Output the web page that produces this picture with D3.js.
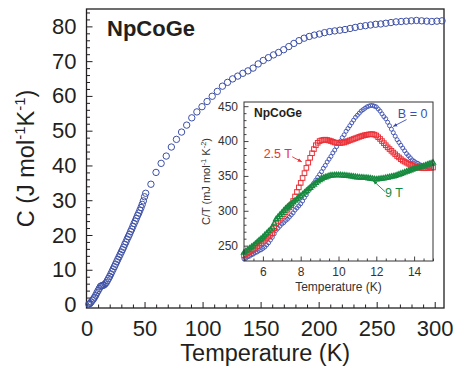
<!DOCTYPE html>
<html>
<head>
<meta charset="utf-8">
<script src="https://cdn.jsdelivr.net/npm/d3@7"></script>
<style>
	body { margin: 0; background: #fff; }
	svg { display: block; font-family: 'Liberation Sans', Arial, Helvetica, sans-serif; }
</style>
</head>
<body>
<svg id="chart" width="459" height="370"></svg>
<script>
// main panel: specific heat C (J mol-1 K-1) vs temperature (K)
const mainT = [
	2, 3, 4, 5, 6, 7, 8, 9, 10, 11, 12, 13, 14, 15, 16, 17, 18, 19, 20, 21, 22, 23, 24, 25,
	26, 27, 28, 29, 30, 31, 32, 33, 34, 35, 36, 37, 38, 39, 40, 41, 42, 43, 44, 45, 46, 47,
	48, 49, 50, 51,
	55.5, 59.9, 64.3, 68.7, 73.1, 77.5, 81.9, 86.3, 90.7, 95.1, 99.5, 103.9, 108.3, 112.7,
	117.1, 121.5, 125.9, 130.3, 134.7, 139.1, 143.5, 147.9, 152.3, 156.7, 161.1, 165.5,
	169.9, 174.3, 178.7, 183.1, 187.5, 191.9, 196.3, 200.7, 205.1, 209.5, 213.9, 218.3,
	222.7, 227.1, 231.5, 235.9, 240.3, 244.7, 249.1, 253.5, 257.9, 262.3, 266.7, 271.1,
	275.5, 279.9, 284.3, 288.7, 293.1, 297.5, 301.9, 306.3
];
const mainC = [
	0.1, 0.3, 0.7, 1.2, 1.6, 2.1, 2.7, 3.4, 4.0, 4.6, 5.2, 5.4, 5.5, 5.6, 5.9, 6.3, 6.9, 7.5,
	8.1, 8.8, 9.5, 10.2, 10.9, 11.6, 12.3, 13.0, 13.7, 14.4, 15.1, 15.8, 16.5, 17.3, 18.0,
	18.8, 19.5, 20.2, 21.0, 21.7, 22.5, 23.3, 24.0, 24.8, 25.6, 26.3, 27.1, 27.9, 28.8, 29.8,
	31.0, 32.0,
	34.6, 38.0, 40.6, 42.7, 45.3, 47.5, 49.6, 51.6, 53.7, 55.4, 56.9, 58.4, 59.9, 61.3,
	62.8, 63.9, 64.9, 65.7, 66.5, 67.2, 68.0, 69.2, 70.2, 71.0, 71.8, 72.5, 73.3, 74.2,
	75.1, 75.9, 76.6, 77.1, 77.5, 77.8, 78.2, 78.5, 78.7, 78.9, 79.1, 79.4, 79.7, 80.0,
	80.2, 80.4, 80.6, 80.7, 80.9, 81.1, 81.3, 81.4, 81.5, 81.6, 81.7, 81.6, 81.5, 81.4,
	81.5, 81.6
];
const mainXTicks = [0, 50, 100, 150, 200, 250, 300];
const mainYTicks = [0, 10, 20, 30, 40, 50, 60, 70, 80];

// inset: C/T (mJ mol-1 K-2) vs temperature, three fields
const insetT = [
	5.0, 5.1, 5.2, 5.3, 5.4, 5.5, 5.6, 5.7, 5.8, 5.9, 6.0, 6.1, 6.2, 6.3, 6.4, 6.5, 6.6, 6.7,
	6.8, 6.9, 7.0, 7.1, 7.2, 7.3, 7.4, 7.5, 7.6, 7.7, 7.8, 7.9, 8.0, 8.1, 8.2, 8.3, 8.4, 8.5,
	8.6, 8.7, 8.8, 8.9, 9.0, 9.1, 9.2, 9.3, 9.4, 9.5, 9.6, 9.7, 9.8, 9.9, 10.0, 10.1, 10.2,
	10.3, 10.4, 10.5, 10.6, 10.7, 10.8, 10.9, 11.0, 11.1, 11.2, 11.3, 11.4, 11.5, 11.6, 11.7,
	11.8, 11.9, 12.0, 12.1, 12.2, 12.3, 12.4, 12.5, 12.6, 12.7, 12.8, 12.9, 13.0, 13.1, 13.2,
	13.3, 13.4, 13.5, 13.6, 13.7, 13.8, 13.9, 14.0, 14.1, 14.2, 14.3, 14.4, 14.5, 14.6, 14.7,
	14.8, 14.9, 15.0
];
// B = 0 (stops at 14.8 K)
const insetB0 = [
	231, 232, 234, 235, 237, 238, 240, 241, 243, 244, 246, 248, 251, 254, 258, 262, 267, 272,
	275, 278, 281, 283, 286, 288, 291, 294, 297, 301, 304, 307, 310, 314, 319, 323, 328, 332,
	336, 340, 344, 348, 352, 356, 361, 365, 370, 374, 378, 383, 387, 392, 396, 400, 405,
	409, 414, 418, 422, 426, 430, 434, 437, 440, 443, 445, 447, 449, 450, 451,
	451, 450, 449, 446, 443, 439, 435, 432, 427, 422, 417, 412, 407, 402, 398,
	394, 390, 386, 382, 379, 376, 373, 371, 369, 368, 366, 365, 364, 363, 362.6,
	362
];
// B = 2.5 T
const insetB25 = [
	236, 238, 239.5, 241, 243, 245, 247, 249, 251.5, 253.5, 256, 258.5, 261, 263, 265.5, 268,
	275, 282, 285.5, 289, 292, 295, 298, 301.5, 305, 308, 314, 320.5, 327, 333.5, 340, 347,
	354, 361.5, 369, 376, 382.5, 388.5, 394, 397.5, 400, 401, 401.7, 402, 401.5, 400.8, 400,
	399, 398, 397.5, 397, 397.2, 397.6, 398, 399, 400, 401, 402, 403, 404, 405, 406, 407,
	407.8, 408.5, 409, 409.5, 409.8, 410, 409.2, 408, 405.5, 403, 400, 397, 394, 391, 388.5,
	386, 383.5, 381, 378.5, 376.5, 374, 372, 370.5, 369, 367.5, 366, 365, 364, 363, 362,
	361.7, 361.4, 361.2, 361, 361.2, 361.5, 361.8, 362
];
// B = 9 T
const insetB9 = [
	240, 242, 244, 246, 248, 250, 252.5, 255, 257.5, 259.5, 262, 265, 267.5, 270.5, 273, 276,
	282, 288, 291, 294, 297, 300, 303, 305.5, 308, 310, 312, 314.5, 316.5, 319, 321, 323.5,
	326, 328.5, 331, 333, 335.5, 337.5, 340, 342, 344, 345.5, 347, 348, 349, 350, 350.5,
	350.8, 351, 351, 351, 351, 350.7, 350.5, 350.2, 350, 349.6, 349.2, 348.8, 348.4, 348,
	347.8, 347.6, 347.4, 347.2, 347, 346.6, 346.2, 345.8, 345.4, 345, 345.3, 345.7, 346.1,
	346.5, 347, 347.6, 348.2, 348.8, 349.4, 350, 351, 352, 353, 354, 355, 356, 357, 358,
	359, 360, 360.8, 361.6, 362.4, 363.2, 364, 365, 366, 367, 368, 369
];
const insetXTicks = [6, 8, 10, 12, 14];
const insetYTicks = [250, 300, 350, 400, 450];

const blueMain = '#3d50a6';
const blue = '#3c4fb0';
const red = '#ec3138';
const green = '#168a3f';
const ink = '#231f20';

const svg = d3.select('#chart');

// ---- main panel ----
const mL = 86.5, mR = 444, mT = 9, mB = 308;
const x = d3.scaleLinear().domain([0, 308]).range([mL, mR]);
const y = d3.scaleLinear().domain([-1, 85]).range([mB, mT]);

const mainXMinor = d3.range(10, 301, 10).filter((v) => v % 50 !== 0);
const mainYMinor = d3.range(2, 85, 2).filter((v) => v % 10 !== 0);

svg
	.append('g')
	.attr('transform', `translate(0,${mB})`)
	.call(d3.axisBottom(x).tickValues(mainXMinor).tickSize(-3.5).tickFormat(''))
	.call((g) => g.select('.domain').remove());
svg
	.append('g')
	.attr('transform', `translate(0,${mB})`)
	.call(d3.axisBottom(x).tickValues(mainXTicks).tickSize(-6).tickPadding(12))
	.call((g) => g.select('.domain').remove())
	.call((g) => g.selectAll('text').attr('font-size', 22).attr('fill', ink).attr('font-family', null));

svg
	.append('g')
	.attr('transform', `translate(${mL},0)`)
	.call(d3.axisLeft(y).tickValues(mainYMinor).tickSize(-3.5).tickFormat(''))
	.call((g) => g.select('.domain').remove());
svg
	.append('g')
	.attr('transform', `translate(${mL},0)`)
	.call(d3.axisLeft(y).tickValues(mainYTicks).tickSize(-6).tickPadding(10))
	.call((g) => g.select('.domain').remove())
	.call((g) => g.selectAll('text').attr('font-size', 22).attr('fill', ink).attr('font-family', null));

svg.selectAll('.tick line').attr('stroke', ink);

svg
	.append('rect')
	.attr('x', mL)
	.attr('y', mT)
	.attr('width', mR - mL)
	.attr('height', mB - mT)
	.attr('fill', 'none')
	.attr('stroke', ink)
	.attr('stroke-width', 1.3);

// axis titles
svg
	.append('text')
	.attr('x', (mL + mR) / 2)
	.attr('y', 361)
	.attr('text-anchor', 'middle')
	.attr('font-size', 23.5)
	.attr('fill', ink)
	.text('Temperature (K)');

const yLab = svg
	.append('text')
	.attr('transform', `translate(34,${(mT + mB) / 2}) rotate(-90)`)
	.attr('text-anchor', 'middle')
	.attr('font-size', 23.5)
	.attr('fill', ink);
yLab.append('tspan').text('C (J mol');
yLab.append('tspan').attr('font-size', 15).attr('dy', -9).text('-1');
yLab.append('tspan').attr('dy', 9).text('K');
yLab.append('tspan').attr('font-size', 15).attr('dy', -9).text('-1');
yLab.append('tspan').attr('dy', 9).text(')');

svg
	.append('text')
	.attr('x', 107)
	.attr('y', 36)
	.attr('font-size', 22)
	.attr('font-weight', 'bold')
	.attr('fill', ink)
	.text('NpCoGe');

// main data
const mainData = mainT.map((t, i) => ({ t, c: mainC[i] }));
svg
	.append('g')
	.selectAll('circle')
	.data(mainData)
	.join('circle')
	.attr('cx', (d) => x(d.t))
	.attr('cy', (d) => y(d.c))
	.attr('r', 3.2)
	.attr('fill', 'none')
	.attr('stroke', blueMain)
	.attr('stroke-width', 1);

// ---- inset ----
const iL = 244, iR = 433, iT = 102, iB = 261;
const ix = d3.scaleLinear().domain([5, 15]).range([iL, iR]);
const iy = d3.scaleLinear().domain([228, 456]).range([iB, iT]);

svg
	.append('rect')
	.attr('x', iL)
	.attr('y', iT)
	.attr('width', iR - iL)
	.attr('height', iB - iT)
	.attr('fill', '#fff');

const inset = svg.append('g');

const insetXMinor = d3.range(5, 15.01, 0.5).filter((v) => v % 2 !== 0);
const insetYMinor = d3.range(230, 456, 10).filter((v) => v % 50 !== 0);

inset
	.append('g')
	.attr('transform', `translate(0,${iB})`)
	.call(d3.axisBottom(ix).tickValues(insetXMinor).tickSize(-2.5).tickFormat(''))
	.call((g) => g.select('.domain').remove());
inset
	.append('g')
	.attr('transform', `translate(0,${iB})`)
	.call(d3.axisBottom(ix).tickValues(insetXTicks).tickSize(-4.5).tickPadding(6))
	.call((g) => g.select('.domain').remove())
	.call((g) => g.selectAll('text').attr('font-size', 12).attr('fill', '#333').attr('font-family', null));
inset
	.append('g')
	.attr('transform', `translate(${iL},0)`)
	.call(d3.axisLeft(iy).tickValues(insetYMinor).tickSize(-2.5).tickFormat(''))
	.call((g) => g.select('.domain').remove());
inset
	.append('g')
	.attr('transform', `translate(${iL},0)`)
	.call(d3.axisLeft(iy).tickValues(insetYTicks).tickSize(-4.5).tickPadding(6))
	.call((g) => g.select('.domain').remove())
	.call((g) => g.selectAll('text').attr('font-size', 12).attr('fill', '#333').attr('font-family', null));

inset.selectAll('.tick line').attr('stroke', '#444');

inset
	.append('text')
	.attr('x', (iL + iR) / 2)
	.attr('y', 291)
	.attr('text-anchor', 'middle')
	.attr('font-size', 12)
	.attr('fill', '#333')
	.text('Temperature (K)');

const iyLab = inset
	.append('text')
	.attr('transform', `translate(210,${(iT + iB) / 2}) rotate(-90)`)
	.attr('text-anchor', 'middle')
	.attr('font-size', 11)
	.attr('fill', '#333');
iyLab.append('tspan').text('C/T (mJ mol');
iyLab.append('tspan').attr('font-size', 7.5).attr('dy', -4).text('-1');
iyLab.append('tspan').attr('dy', 4).text(' K');
iyLab.append('tspan').attr('font-size', 7.5).attr('dy', -4).text('-2');
iyLab.append('tspan').attr('dy', 4).text(')');

inset
	.append('text')
	.attr('x', 254)
	.attr('y', 117)
	.attr('font-size', 12)
	.attr('font-weight', 'bold')
	.attr('fill', ink)
	.text('NpCoGe');

const b0Data = insetB0.map((c, i) => ({ t: insetT[i], c }));
const b25Data = insetB25.map((c, i) => ({ t: insetT[i], c }));
const b9Data = insetB9.map((c, i) => ({ t: insetT[i], c }));

inset
	.append('g')
	.selectAll('circle')
	.data(b0Data)
	.join('circle')
	.attr('cx', (d) => ix(d.t))
	.attr('cy', (d) => iy(d.c))
	.attr('r', 2)
	.attr('fill', 'none')
	.attr('stroke', blue)
	.attr('stroke-width', 0.9);

inset
	.append('g')
	.selectAll('rect')
	.data(b25Data)
	.join('rect')
	.attr('x', (d) => ix(d.t) - 2.3)
	.attr('y', (d) => iy(d.c) - 2.3)
	.attr('width', 4.6)
	.attr('height', 4.6)
	.attr('fill', 'none')
	.attr('stroke', red)
	.attr('stroke-width', 1);

const tri = d3.symbol().type(d3.symbolTriangle).size(11);
inset
	.append('g')
	.selectAll('path')
	.data(b9Data)
	.join('path')
	.attr('d', tri)
	.attr('transform', (d) => `translate(${ix(d.t)},${iy(d.c)})`)
	.attr('fill', 'none')
	.attr('stroke', green)
	.attr('stroke-width', 1.3);

inset
	.append('rect')
	.attr('x', iL)
	.attr('y', iT)
	.attr('width', iR - iL)
	.attr('height', iB - iT)
	.attr('fill', 'none')
	.attr('stroke', '#333')
	.attr('stroke-width', 1);

// annotations (placed in data units)
const defs = svg.append('defs');
[['b', blue], ['r', red], ['g', green]].forEach(([id, col]) => {
	defs
		.append('marker')
		.attr('id', 'head-' + id)
		.attr('viewBox', '0 0 10 10')
		.attr('refX', 9)
		.attr('refY', 5)
		.attr('markerWidth', 5)
		.attr('markerHeight', 5)
		.attr('orient', 'auto')
		.append('path')
		.attr('d', 'M0,1 L10,5 L0,9 Z')
		.attr('fill', col);
});

const notes = [
	{ text: 'B = 0', col: blue, id: 'b', tx: 13.14, ty: 433.7, a: [13.6, 430.8, 12.9, 421] },
	{ text: '2.5 T', col: red, id: 'r', tx: 6.04, ty: 375.6, a: [7.55, 377.5, 8.05, 370.3] },
	{ text: '9 T', col: green, id: 'g', tx: 12.46, ty: 320.3, a: [12.46, 327.5, 11.84, 343] },
];
notes.forEach((n) => {
	inset
		.append('text')
		.attr('x', ix(n.tx))
		.attr('y', iy(n.ty))
		.attr('font-size', 12.5)
		.attr('fill', n.col)
		.text(n.text);
	inset
		.append('line')
		.attr('x1', ix(n.a[0]))
		.attr('y1', iy(n.a[1]))
		.attr('x2', ix(n.a[2]))
		.attr('y2', iy(n.a[3]))
		.attr('stroke', n.col)
		.attr('stroke-width', 0.9)
		.attr('marker-end', `url(#head-${n.id})`);
});
</script>
</body>
</html>
